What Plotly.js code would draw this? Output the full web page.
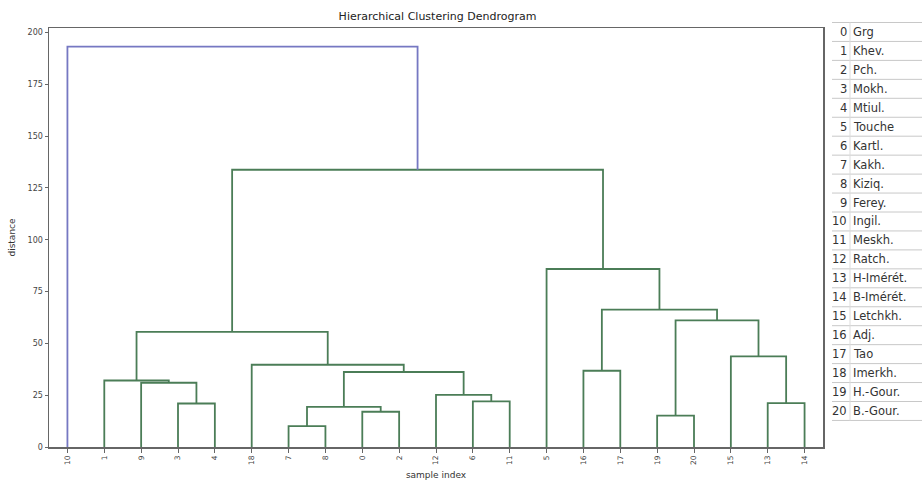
<!DOCTYPE html>
<html>
<head>
<meta charset="utf-8">
<script src="https://cdn.plot.ly/plotly-3.0.1.min.js"></script>
<style>html,body{margin:0;padding:0;background:#fff;}#chart{width:923px;height:480px;}</style>
</head>
<body>
<div id="chart"></div>
<script>
// ---- data ----
// merges in scipy style: ids 0..20 are samples, 21+i is merge i
const mergeA = [7, 19, 0, 21, 3, 13, 6, 12, 9, 1, 24, 16, 18, 15, 30, 22, 32, 5, 35, 10];
const mergeB = [8, 20, 2, 23, 4, 14, 11, 27, 25, 29, 28, 17, 31, 26, 33, 34, 36, 37, 38, 39];
const mergeHeight = [10.1, 15.1, 17.0, 19.4, 21.0, 21.2, 22.0, 25.2, 31.0, 32.1, 36.2, 36.8, 39.7, 43.7, 55.6, 61.1, 66.3, 85.9, 133.8, 193.2];
const colorThreshold = 150;
const sampleNames = ["Grg", "Khev.", "Pch.", "Mokh.", "Mtiul.", "Touche", "Kartl.", "Kakh.", "Kiziq.", "Ferey.", "Ingil.", "Meskh.", "Ratch.", "H-Imérét.", "B-Imérét.", "Letchkh.", "Adj.", "Tao", "Imerkh.", "H.-Gour.", "B.-Gour."];
const yTicks = [0, 25, 50, 75, 100, 125, 150, 175, 200];

// ---- build dendrogram geometry ----
const nLeaves = sampleNames.length;
const leafOrder = [];
function traverse(id) {
  if (id < nLeaves) { leafOrder.push(id); return; }
  const i = id - nLeaves;
  traverse(mergeA[i]); traverse(mergeB[i]);
}
traverse(nLeaves + mergeA.length - 1);
const leafPos = {};
leafOrder.forEach((leaf, k) => { leafPos[leaf] = 5 + 10 * k; });
const nodeX = {}, nodeH = {};
for (let l = 0; l < nLeaves; l++) { nodeX[l] = leafPos[l]; nodeH[l] = 0; }
const gx = [], gy = [], bx = [], by = [];
mergeA.forEach((a, i) => {
  const b = mergeB[i], h = mergeHeight[i], id = nLeaves + i;
  nodeX[id] = (nodeX[a] + nodeX[b]) / 2; nodeH[id] = h;
  const xs = [nodeX[a], nodeX[a], nodeX[b], nodeX[b], null];
  const ys = [nodeH[a], h, h, nodeH[b], null];
  if (h >= colorThreshold) { bx.push(...xs); by.push(...ys); }
  else { gx.push(...xs); gy.push(...ys); }
});

const traces = [
  {x: gx, y: gy, mode: 'lines', type: 'scatter', line: {color: '#4b7d57', width: 1.8}, hoverinfo: 'skip', showlegend: false},
  {x: bx, y: by, mode: 'lines', type: 'scatter', line: {color: '#7678c2', width: 1.8}, hoverinfo: 'skip', showlegend: false}
];

// ---- side table ----
const L = 49, R = 823, T = 28, B = 447;
const px = v => (v - L) / (R - L);
const py = v => (B - v) / (B - T);
const rowH = 18.95, rowTop = 22.5;
const shapes = [], annotations = [];
for (let k = 0; k <= nLeaves; k++) {
  const yy = rowTop + k * rowH;
  shapes.push({type: 'line', xref: 'paper', yref: 'paper', x0: px(832), x1: px(922), y0: py(yy), y1: py(yy), line: {color: '#c8c8c8', width: 1}});
}
shapes.push({type: 'line', xref: 'paper', yref: 'paper', x0: px(850), x1: px(850), y0: py(rowTop), y1: py(rowTop + nLeaves * rowH), line: {color: '#dcdcdc', width: 1}});
sampleNames.forEach((name, k) => {
  const yc = rowTop + (k + 0.5) * rowH;
  annotations.push({xref: 'paper', yref: 'paper', x: px(849), y: py(yc), text: String(k), showarrow: false, xanchor: 'right', yanchor: 'middle', font: {family: 'DejaVu Sans', size: 11.5, color: '#333'}});
  annotations.push({xref: 'paper', yref: 'paper', x: px(851), y: py(yc), text: name, showarrow: false, xanchor: 'left', yanchor: 'middle', font: {family: 'DejaVu Sans', size: 11.5, color: '#333'}});
});

const layout = {
  width: 923, height: 480,
  margin: {l: L, r: 923 - R, t: T, b: 480 - B},
  paper_bgcolor: '#fff', plot_bgcolor: '#fff',
  font: {family: 'DejaVu Sans', color: '#333'},
  title: {text: 'Hierarchical Clustering Dendrogram', font: {family: 'DejaVu Sans', size: 11, color: '#222'}, x: 0.474, xanchor: 'center', y: 0.967, yanchor: 'middle'},
  xaxis: {
    range: [0, 10 * nLeaves], showgrid: false, zeroline: false,
    tickmode: 'array', tickvals: leafOrder.map(l => leafPos[l]), ticktext: leafOrder.map(String),
    tickangle: -90, tickfont: {size: 7.5, color: '#444'},
    ticks: 'outside', ticklen: 4, tickcolor: '#666',
    showline: true, mirror: true, linecolor: '#666', linewidth: 1.5,
    title: {text: 'sample index', font: {size: 9, color: '#333'}, standoff: 7}
  },
  yaxis: {
    range: [0, 202.2], showgrid: false, zeroline: false,
    tickmode: 'array', tickvals: yTicks, tickfont: {size: 8, color: '#444'},
    ticks: 'outside', ticklen: 3, tickcolor: '#666',
    showline: true, mirror: true, linecolor: '#666', linewidth: 1.5,
    title: {text: 'distance', font: {size: 9, color: '#333'}, standoff: 10}
  },
  shapes: shapes,
  annotations: annotations
};

Plotly.newPlot('chart', traces, layout, {staticPlot: true, displayModeBar: false});
</script>
</body>
</html>
